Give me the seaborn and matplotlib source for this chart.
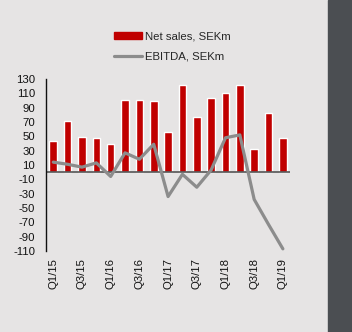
import matplotlib
matplotlib.use("Agg")
import matplotlib.pyplot as plt
import matplotlib.patches as mpatches
import seaborn as sns
import numpy as np
import pandas as pd

quarters = ["Q1/15", "Q2/15", "Q3/15", "Q4/15", "Q1/16", "Q2/16", "Q3/16", "Q4/16",
            "Q1/17", "Q2/17", "Q3/17", "Q4/17", "Q1/18", "Q2/18", "Q3/18", "Q4/18", "Q1/19"]
net_sales = [43, 71, 49, 48, 40, 101, 101, 99, 56, 122, 77, 103, 110, 122, 33, 82, 47]
ebitda = [14, 11, 7, 13, -6, 27, 18, 39, -34, -3, -21, 3, 48, 52, -38, -73, -107]
yticks = list(range(-110, 131, 20))

bg = "#e6e4e4"
sns.set_theme(style="white")
plt.rcParams['font.family'] = ['Liberation Sans', 'DejaVu Sans']

fig = plt.figure(figsize=(3.52, 3.32), dpi=100, facecolor=bg)
ax = fig.add_axes([0.131, 0.244, 0.693, 0.518])
ax.set_facecolor(bg)

df = pd.DataFrame({"q": quarters, "sales": net_sales, "ebitda": ebitda, "pos": np.arange(len(quarters))})
sns.barplot(data=df, x="q", y="sales", color="#c00000", saturation=1, width=0.53, ax=ax,
            label="Net sales, SEKm")
sns.lineplot(data=df, x="pos", y="ebitda", color="#8c8c8c", linewidth=2.3, sort=False, ax=ax,
             label="EBITDA, SEKm")

ax.set_xlim(-0.5, len(quarters) - 0.5)
ax.set_ylim(-110, 130)
ax.set_yticks(yticks)
ax.set_yticklabels([str(v) for v in yticks], fontsize=8.2, color="#111111")
ax.set_xticks(np.arange(0, len(quarters), 2))
ax.set_xticklabels(quarters[::2], rotation=90, fontsize=8.2, color="#111111")
ax.tick_params(axis="y", length=0, pad=8)
ax.tick_params(axis="x", length=0, pad=5)
ax.set_xlabel("")
ax.set_ylabel("")
for s in ["top", "right", "bottom"]:
    ax.spines[s].set_visible(False)
ax.spines["left"].set_color("#111111")
ax.spines["left"].set_linewidth(1.0)
ax.axhline(0, color="#555555", linewidth=1.2, zorder=1)

if ax.get_legend():
    ax.get_legend().remove()
h1 = mpatches.Patch(color="#c00000")
h2 = plt.Line2D([], [], color="#8c8c8c", linewidth=2.3)
fig.legend([h1, h2], ["Net sales, SEKm", "EBITDA, SEKm"], loc="upper center",
           bbox_to_anchor=(0.49, 0.935), frameon=False, fontsize=8.2,
           handlelength=2.4, handleheight=0.55, handletextpad=0.3, labelspacing=0.85)

fig.patches.append(mpatches.Rectangle((0.932, 0), 0.068, 1, transform=fig.transFigure,
                                      color="#4b4e52", zorder=-1))
fig.savefig("out.png", dpi=100, facecolor=bg)
